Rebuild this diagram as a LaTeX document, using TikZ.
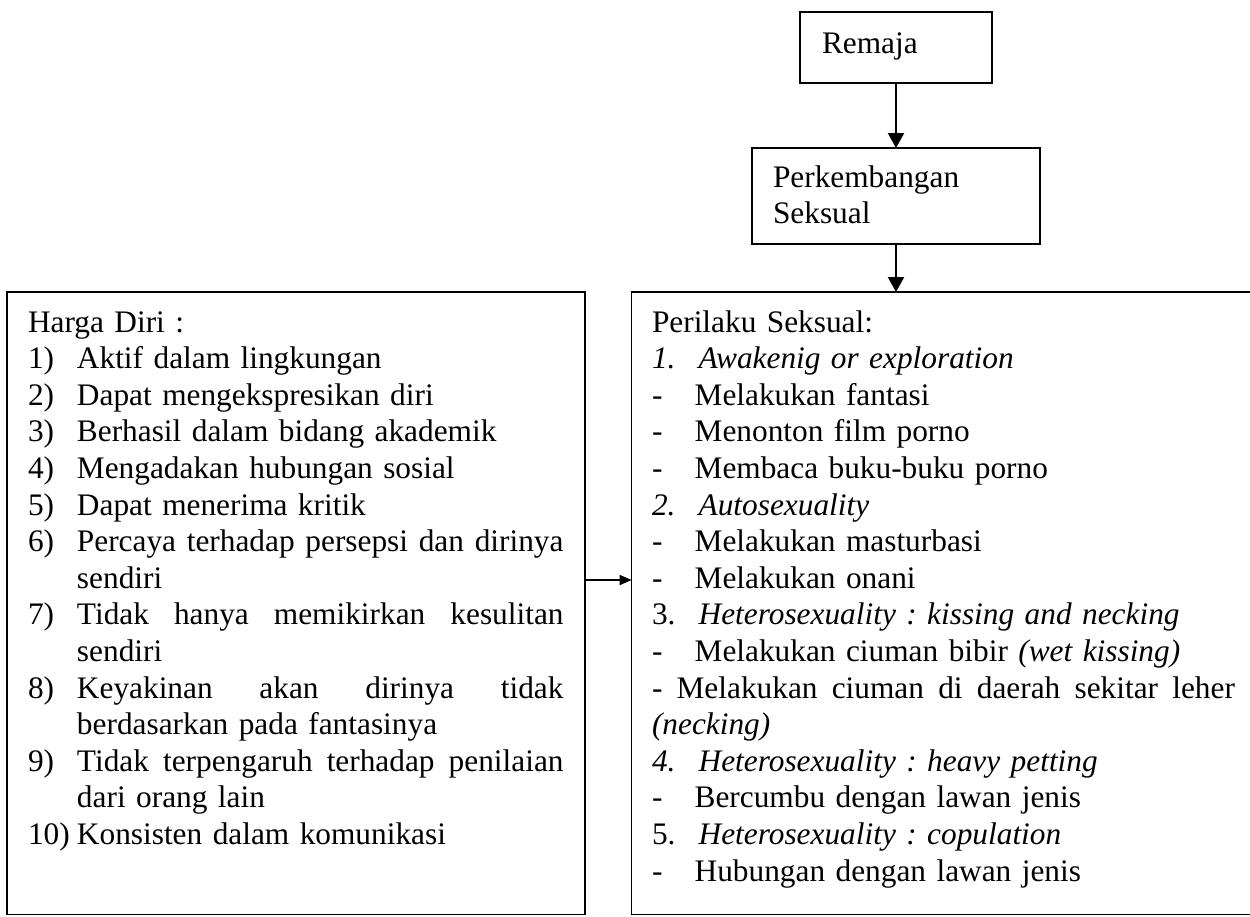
\documentclass[tikz,border=0pt]{standalone}
\usepackage{fontspec}
\setmainfont{Liberation Serif}
\usetikzlibrary{arrows.meta}
\frenchspacing
\newlength{\nlab}\setlength{\nlab}{18.375pt}
\newlength{\nbody}\setlength{\nbody}{182.44pt}
\newcommand{\litem}[2]{\makebox[\nlab][l]{#1}#2}
\newcommand{\litemj}[2]{\makebox[\nlab][l]{#1}\hbox to \nbody{#2}}
\newcommand{\lcont}[1]{\hspace*{\nlab}#1}
\newcommand{\ritem}[2]{\makebox[17.5pt][l]{#1}#2}
\newcommand{\rdash}[1]{\makebox[16pt][l]{-}#1}
\begin{document}
\begin{tikzpicture}[x=0.375pt,y=-0.375pt,
  box/.style={draw,line width=0.5pt,inner sep=0pt,outer sep=0pt},
  txt/.style={inner sep=0pt,outer sep=0pt,anchor=base west,align=left,
    font=\fontsize{11.75pt}{13.725pt}\selectfont},
  varr/.style={line width=0.75pt,-{Triangle[length=5.6pt,width=6pt]}},
  harr/.style={line width=0.55pt,-{Triangle[length=4.5pt,width=3.75pt]}}]
\useasboundingbox (0,0) rectangle (1250,916);

% boxes
\node[box,minimum width=72pt,minimum height=26.625pt] (remaja) at (896,47.5) {};
\node[box,minimum width=108pt,minimum height=36pt] (perk) at (896,196) {};
\node[box,minimum width=216.75pt,minimum height=233.44pt] (lbox) at (296,603.25) {};
\node[box,minimum width=239.36pt,minimum height=233.44pt] (rbox) at (950.85,603.25) {};

% texts
\node[txt,text width=60pt] (tremaja) at (822,53) {Remaja};
\node[txt,text width=100pt] (tperk) at (773,187) {Perkembangan\\Seksual};

\node[txt,text width=203pt] (tleft) at (28,332) {%
Harga Diri :\\
\litem{1)}{Aktif dalam lingkungan}\\
\litem{2)}{Dapat mengekspresikan diri}\\
\litem{3)}{Berhasil dalam bidang akademik}\\
\litem{4)}{Mengadakan hubungan sosial}\\
\litem{5)}{Dapat menerima kritik}\\
\litemj{6)}{Percaya\hfill terhadap\hfill persepsi\hfill dan\hfill dirinya}\\
\lcont{sendiri}\\
\litemj{7)}{Tidak\hfill hanya\hfill memikirkan\hfill kesulitan}\\
\lcont{sendiri}\\
\litemj{8)}{Keyakinan\hfill akan\hfill dirinya\hfill tidak}\\
\lcont{berdasarkan pada fantasinya}\\
\litemj{9)}{Tidak\hfill terpengaruh\hfill terhadap\hfill penilaian}\\
\lcont{dari orang lain}\\
\litem{10)}{Konsisten dalam komunikasi}};

\node[txt,text width=235pt] (tright) at (652,332) {%
Perilaku Seksual:\\
\ritem{\textit{1.}}{\textit{Awakenig or exploration}}\\
\rdash{Melakukan fantasi}\\
\rdash{Menonton film porno}\\
\rdash{Membaca buku-buku porno}\\
\ritem{\textit{2.}}{\textit{Autosexuality}}\\
\rdash{Melakukan masturbasi}\\
\rdash{Melakukan onani}\\
\ritem{3.}{\textit{Heterosexuality : kissing and necking}}\\
\rdash{Melakukan ciuman bibir \textit{(wet kissing)}}\\
\leavevmode\hbox to 218.6pt{-\hfill Melakukan\hfill ciuman\hfill di\hfill daerah\hfill sekitar\hfill leher}\\
\textit{(necking)}\\
\ritem{\textit{4.}}{\textit{Heterosexuality : heavy petting}}\\
\rdash{Bercumbu dengan lawan jenis}\\
\ritem{5.}{\textit{Heterosexuality : copulation}}\\
\rdash{Hubungan dengan lawan jenis}};

% connectors
\draw[varr] (remaja) -- (perk);
\draw[varr] (perk.south) -- (perk.south |- rbox.north);
\coordinate (hmid) at (0,580);
\draw[harr] (lbox.east |- hmid) -- (rbox.west |- hmid);
\end{tikzpicture}
\end{document}
